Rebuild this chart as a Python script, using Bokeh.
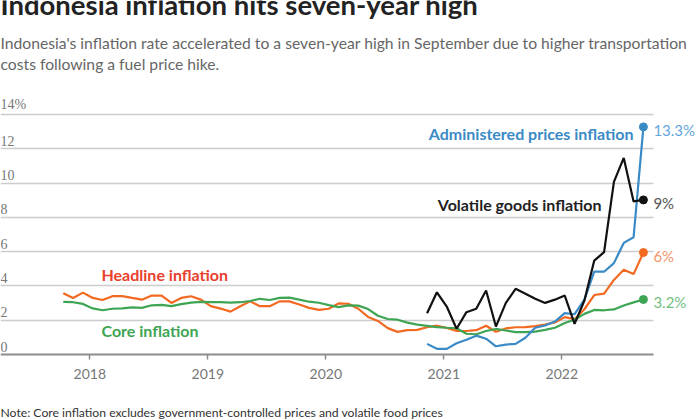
import pandas as pd
from bokeh.plotting import figure
from bokeh.models import (Range1d, FixedTicker, Label, LabelSet, ColumnDataSource,
                          LinearAxis, Grid)
from bokeh.embed import file_html
from bokeh.resources import INLINE

# ---------------- data ----------------
start_main = "2017-10"
start_sub = "2020-11"
end_month = "2022-09"

headline = [3.58, 3.30, 3.61,
            3.30, 3.18, 3.40, 3.41, 3.30, 3.20, 3.44, 3.44, 3.01, 3.30, 3.40, 3.20,
            2.82, 2.68, 2.50, 2.82, 3.10, 2.82, 2.82, 3.10, 3.10, 2.92, 2.72, 2.60,
            2.67, 2.98, 2.96, 2.67, 2.19, 1.96, 1.54, 1.32, 1.42, 1.44, 1.59, 1.68,
            1.55, 1.38, 1.37, 1.42, 1.68, 1.33, 1.52, 1.59, 1.60, 1.66, 1.75, 1.87,
            2.18, 2.06, 2.64, 3.47, 3.55, 4.35, 4.94, 4.69, 5.95]
core = [3.07, 3.05, 2.95,
        2.69, 2.58, 2.67, 2.69, 2.75, 2.72, 2.87, 2.90, 2.82, 2.94, 3.03, 3.07,
        3.06, 3.06, 3.03, 3.05, 3.12, 3.25, 3.18, 3.30, 3.32, 3.20, 3.08, 3.02,
        2.88, 2.76, 2.87, 2.85, 2.65, 2.26, 2.07, 2.03, 1.86, 1.74, 1.67, 1.60,
        1.56, 1.53, 1.21, 1.18, 1.37, 1.49, 1.40, 1.31, 1.30, 1.33, 1.44, 1.56,
        1.84, 2.03, 2.37, 2.60, 2.58, 2.63, 2.86, 3.04, 3.21]
administered = [0.62, 0.33,
                0.33, 0.66, 0.86, 1.10, 0.92, 0.48, 0.58, 0.62, 0.98, 1.56, 1.69, 1.92,
                2.41, 2.35, 3.20, 4.83, 4.83, 5.33, 6.51, 6.84, 13.28]
volatile = [2.41, 3.63,
            2.80, 1.50, 2.47, 2.67, 3.73, 1.63, 3.00, 3.83, 3.55, 3.25, 3.01, 3.20,
            3.44, 1.79, 3.15, 5.48, 5.97, 10.07, 11.47, 8.93, 9.02]

series_names = ["Headline inflation", "Core inflation",
                "Administered prices inflation", "Volatile goods inflation"]
end_labels = ["6%", "3.2%", "13.3%", "9%"]

y_ticks = [0, 2, 4, 6, 8, 10, 12, 14]
y_tick_labels = ["0", "2", "4", "6", "8", "10", "12", "14%"]
x_ticks = [2018, 2019, 2020, 2021, 2022]

title = "Indonesia inflation hits seven-year high"
subtitle1 = "Indonesia's inflation rate accelerated to a seven-year high in September due to higher transportation"
subtitle2 = "costs following a fuel price hike."
note = "Note: Core inflation excludes government-controlled prices and volatile food prices"


def to_x(start, n):
    m = pd.period_range(start, end_month, freq="M")
    assert len(m) == n
    return list(m.year + (m.month - 0.7) / 12.0)


x_main = to_x(start_main, len(headline))
x_sub = to_x(start_sub, len(administered))

# ---------------- layout / styles ----------------
W, H = 700, 420
PX_YEAR = 118.0          # pixels per year
X0 = 2018 - 89.3 / PX_YEAR
X_PLOT_END = X0 + 653 / PX_YEAR
PX_UNIT = 17.14          # pixels per percentage point
Y_BOTTOM = -(H - 354) / PX_UNIT
Y_TOP = 354 / PX_UNIT

FONT = "Lato"
C_HEAD = "#f26a21"
C_HEAD_LBL = "#e8402c"
C_CORE = "#3ea554"
C_ADM = "#3a8ac6"
C_VOL = "#111111"
END_COLORS = ["#f5956a", "#72c07f", "#64a6dc", "#555555"]

p = figure(width=W, height=H, output_backend="svg", toolbar_location=None,
           x_range=Range1d(X0, X0 + W / PX_YEAR), y_range=Range1d(Y_BOTTOM, Y_TOP),
           min_border=0, x_axis_location=None, y_axis_location=None)
p.outline_line_color = None
p.background_fill_color = "white"
p.border_fill_color = "white"
p.grid.visible = False

grid = Grid(dimension=1, ticker=FixedTicker(ticks=y_ticks[1:]),
            cross_bounds=(X0, X_PLOT_END),
            grid_line_color="#cccccc", grid_line_width=1.5)
p.add_layout(grid, "center")

xa = LinearAxis(fixed_location=0, ticker=FixedTicker(ticks=x_ticks), bounds=(X0, X_PLOT_END))
xa.axis_line_color = "#8c8c8c"
xa.axis_line_width = 2
xa.major_tick_line_color = "#8c8c8c"
xa.major_tick_line_width = 1.5
xa.major_tick_out = 5
xa.major_tick_in = 0
xa.minor_tick_line_color = None
xa.major_label_text_font = FONT
xa.major_label_text_font_size = "14px"
xa.major_label_text_color = "#777777"
xa.major_label_standoff = 9
p.add_layout(xa, "below")

# y tick labels above gridlines
ysrc = ColumnDataSource(dict(y=y_ticks, t=y_tick_labels, x=[0] * len(y_ticks)))
p.add_layout(LabelSet(x="x", y="y", text="t", source=ysrc, x_units="screen",
                      y_offset=3, text_baseline="bottom", text_align="left",
                      text_font=FONT, text_font_size="14px", text_color="#777777"))

# lines
lines = [(x_main, headline, C_HEAD), (x_main, core, C_CORE),
         (x_sub, administered, C_ADM), (x_sub, volatile, C_VOL)]
for i, (xs, ys, c) in enumerate(lines):
    p.line(xs, ys, line_color=c, line_width=2.2)
    p.scatter([xs[-1]], [ys[-1]], size=8, fill_color=c, line_color=c)
    p.add_layout(Label(x=xs[-1], y=ys[-1], text=end_labels[i], x_offset=10, y_offset=-3,
                       text_baseline="middle", text_align="left", text_font=FONT,
                       text_font_size="15px", text_color=END_COLORS[i]))


def sy(canvas_y):
    return H - canvas_y


# series labels
lbls = [(101, 274, "left", series_names[0], C_HEAD_LBL),
        (101, 330, "left", series_names[1], C_CORE),
        (633, 133, "right", series_names[2], C_ADM),
        (601, 204, "right", series_names[3], "#222222")]
for lx, ly, al, t, c in lbls:
    p.add_layout(Label(x=lx, y=sy(ly), x_units="screen", y_units="screen", text=t,
                       text_align=al, text_baseline="middle", text_font=FONT,
                       text_font_style="bold", text_font_size="16px", text_color=c))

# title, subtitle, note
p.add_layout(Label(x=0, y=sy(4), x_units="screen", y_units="screen", text=title,
                   text_baseline="middle", text_font=FONT, text_font_style="bold",
                   text_font_size="27.5px", text_color="#222222"))
p.add_layout(Label(x=0, y=sy(42), x_units="screen", y_units="screen", text=subtitle1,
                   text_baseline="middle", text_font=FONT,
                   text_font_size="15.7px", text_color="#666666"))
p.add_layout(Label(x=0, y=sy(63), x_units="screen", y_units="screen", text=subtitle2,
                   text_baseline="middle", text_font=FONT,
                   text_font_size="15.7px", text_color="#666666"))
p.add_layout(Label(x=0, y=sy(412), x_units="screen", y_units="screen", text=note,
                   text_baseline="middle", text_font=FONT,
                   text_font_size="12.2px", text_color="#333333"))

open("out.html", "w").write(file_html(p, INLINE))
